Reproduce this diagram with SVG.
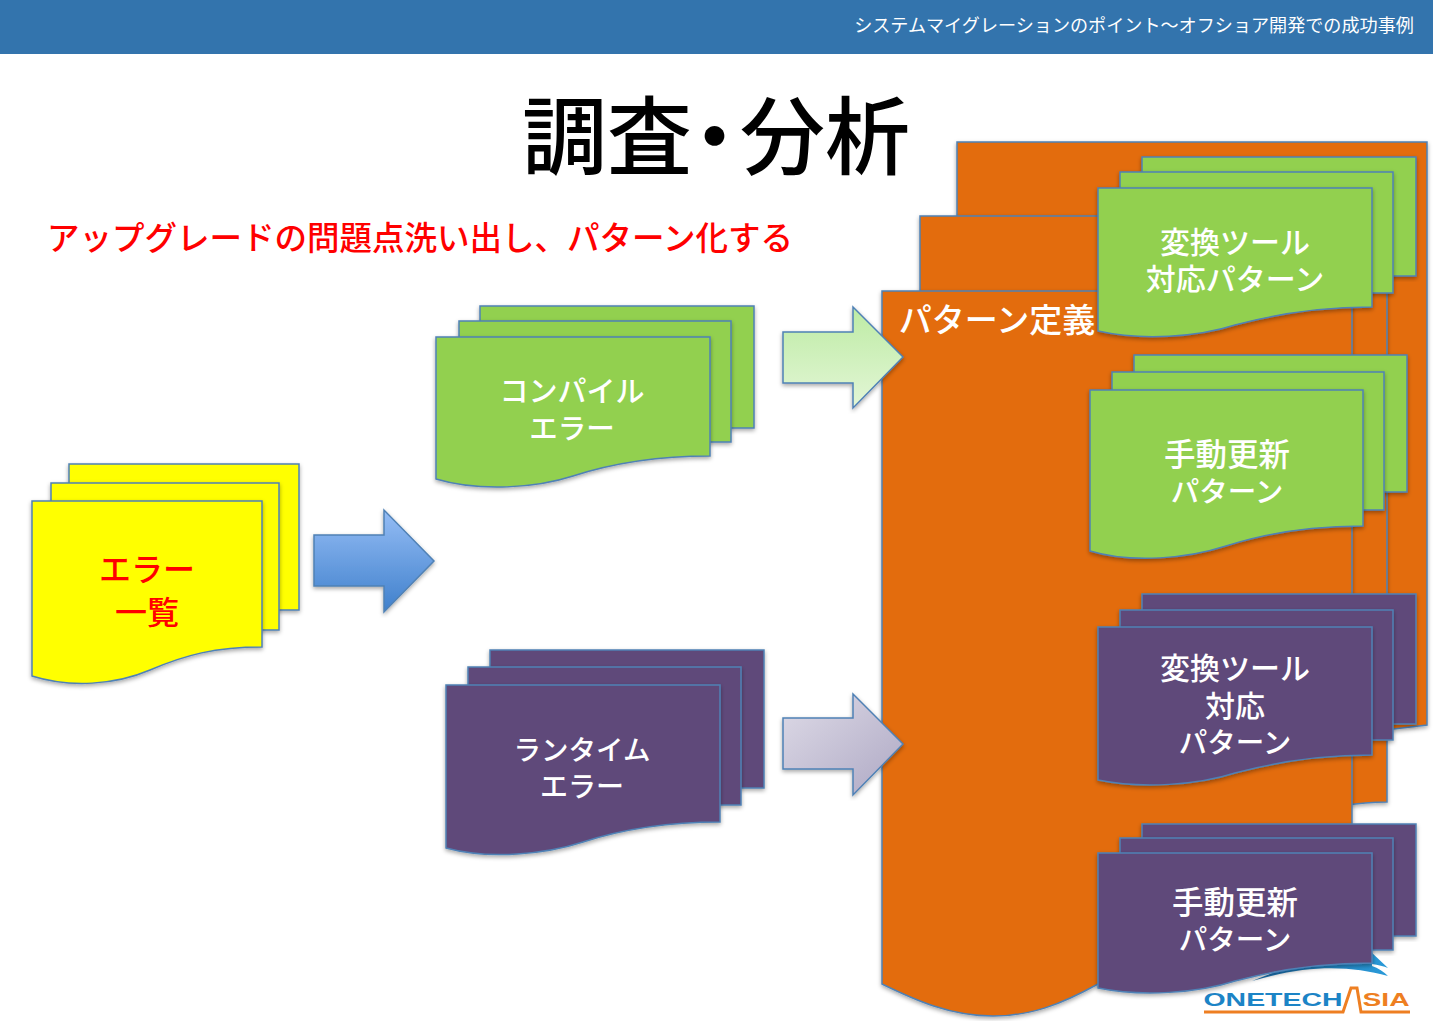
<svg xmlns="http://www.w3.org/2000/svg" width="1433" height="1021" viewBox="0 0 1433 1021">
<defs>
<linearGradient id="gb" x1="0" y1="0" x2="0" y2="1"><stop offset="0" stop-color="#95bdf5"/><stop offset="1" stop-color="#3f80cc"/></linearGradient>
<linearGradient id="gg" x1="0" y1="0" x2="0" y2="1"><stop offset="0" stop-color="#bdeba4"/><stop offset="1" stop-color="#e3f6d6"/></linearGradient>
<linearGradient id="gp" x1="0" y1="0" x2="1" y2="1"><stop offset="0" stop-color="#dedbe7"/><stop offset="1" stop-color="#aea8c4"/></linearGradient>
<linearGradient id="gs" x1="0" y1="0" x2="1" y2="0"><stop offset="0" stop-color="#1a6fb0"/><stop offset="1" stop-color="#2a9ad8"/></linearGradient>
<filter id="sh" x="-5%" y="-5%" width="110%" height="110%"><feDropShadow dx="0" dy="2" stdDeviation="2" flood-color="#000" flood-opacity=".35"/></filter>
</defs>
<style>
text{font-family:"Liberation Sans","Noto Sans CJK JP",sans-serif;text-anchor:middle}
.d{stroke:#4f81b5;stroke-width:1.5;filter:url(#sh)}
.y{fill:#ffff00}.g{fill:#92d050}.p{fill:#5f497a}.o{fill:#e36c0a}
.w{fill:#fff;font-size:30px;font-weight:500}.r{fill:#f00;font-size:32px;font-weight:500}
.k{font-size:28.5px}
.l{font-family:"Liberation Sans",sans-serif;font-weight:bold;font-size:18.5px}
</style>
<rect width="1433" height="1021" fill="#fff"/>
<g id="header"><rect width="1433" height="54" fill="#3374ad"/>
<text x="1134" y="32" style="font-size:18.1px;fill:#fff">システムマイグレーションのポイント～オフショア開発での成功事例</text></g>
<text id="title" x="522" y="168" dx="0 0 -20 -17 0" style="font-size:85px;fill:#000;font-weight:500;text-anchor:start">調査・分析</text>
<text id="subtitle" x="420" y="250" style="font-size:32.5px;fill:#f00;font-weight:500">アップグレードの問題点洗い出し、パターン化する</text>
<g id="pattern-def">
<path class="d o" d="M957 142H1427V725L1300 740L957 740Z"/>
<path class="d o" d="M920 216H1387V802C1370 802 1360 803 1340 806L920 820Z"/>
<path class="d o" d="M882 291H1352V950C1250 950 1170 960 1098 984C1060 1005 1030 1016 993 1016C950 1016 915 1000 882 984Z"/>
<text class="w" style="font-size:33px" x="997" y="332">パターン定義</text>
</g>
<g id="connectors">
<path class="d" fill="url(#gb)" d="M314 535H384V510L434 561L384 612V586H314Z"/>
<path class="d" fill="url(#gg)" d="M783 332H853V307L903 357L853 408V383H783Z"/>
<path class="d" fill="url(#gp)" d="M783 718H853V694L903 744L853 795V769H783Z"/>
</g>
<g id="error-list">
<path class="d y" d="M69 464H299V610H69Z"/>
<path class="d y" d="M51 483H279V630H51Z"/>
<path class="d y" d="M32 501H262V647C215 647 185 655 150 670C115 685 70 688 32 676Z"/>
<text class="r" x="147" y="581">エラー</text><text class="r" x="147" y="624">一覧</text>
</g>
<g id="compile-error">
<path class="d g" d="M480 306H754V428H480Z"/>
<path class="d g" d="M459 321H731V442H459Z"/>
<path class="d g" d="M436 337H710V456c-55 0-100 8-137 20c-37 12-93 16-137 3Z"/>
<text class="w" style="font-size:29px" x="572" y="402">コンパイル</text><text class="w" style="font-size:28.5px" x="572" y="439">エラー</text>
</g>
<g id="runtime-error">
<path class="d p" d="M490 650H764V788H490Z"/>
<path class="d p" d="M468 667H741V805H468Z"/>
<path class="d p" d="M446 685H720V822c-55 0-100 8-137 20c-37 12-93 18-137 6Z"/>
<text class="w" style="font-size:27.5px" x="582" y="760">ランタイム</text><text class="w" style="font-size:28px" x="582" y="797">エラー</text>
</g>
<g id="tool-green">
<path class="d g" d="M1142 157H1416V276H1142Z"/>
<path class="d g" d="M1120 172H1393V293H1120Z"/>
<path class="d g" d="M1098 188H1372V307c-55 0-100 8-137 18c-37 12-93 16-137 6Z"/>
<text class="w" x="1235" y="253">変換ツール</text><text class="w" x="1235" y="290">対応パターン</text>
</g>
<g id="manual-green">
<path class="d g" d="M1134 355H1407V492H1134Z"/>
<path class="d g" d="M1112 372H1384V510H1112Z"/>
<path class="d g" d="M1090 390H1363V526c-55 0-100 8-137 20c-37 12-93 18-136 5Z"/>
<text class="w" style="font-size:31.5px" x="1227" y="466">手動更新</text><text class="w k" x="1227" y="502">パターン</text>
</g>
<g id="tool-purple">
<path class="d p" d="M1142 594H1416V724H1142Z"/>
<path class="d p" d="M1120 610H1393V740H1120Z"/>
<path class="d p" d="M1098 627H1372V755c-55 0-100 8-137 18c-37 12-93 16-137 7Z"/>
<text class="w" x="1235" y="679">変換ツール</text><text class="w" x="1235" y="717">対応</text><text class="w k" x="1235" y="753">パターン</text>
</g>
<g id="logo">
<path fill="url(#gs)" d="M1370 951L1388 968C1384 966 1378 965 1372 964V966C1378 968 1384 972 1388 976C1350 966 1310 964 1252 981C1300 960 1340 958 1372 960Z"/>
<text class="l" x="1273" y="1006" fill="#1c84c6" textLength="139" lengthAdjust="spacingAndGlyphs">ONETECH</text>
<text class="l" x="1386" y="1006" fill="#ee7f22" textLength="47" lengthAdjust="spacingAndGlyphs">SIA</text>
<path fill="none" stroke="#ee7f22" stroke-width="3" d="M1204 1012H1343L1351 988H1357L1361 1012H1410"/>
</g>
<g id="manual-purple">
<path class="d p" d="M1142 824H1416V936H1142Z"/>
<path class="d p" d="M1120 838H1393V950H1120Z"/>
<path class="d p" d="M1098 853H1372V963c-55 0-100 8-137 18c-37 12-93 16-137 7Z"/>
<text class="w" style="font-size:31.5px" x="1235" y="914">手動更新</text><text class="w k" x="1235" y="950">パターン</text>
</g>
</svg>
